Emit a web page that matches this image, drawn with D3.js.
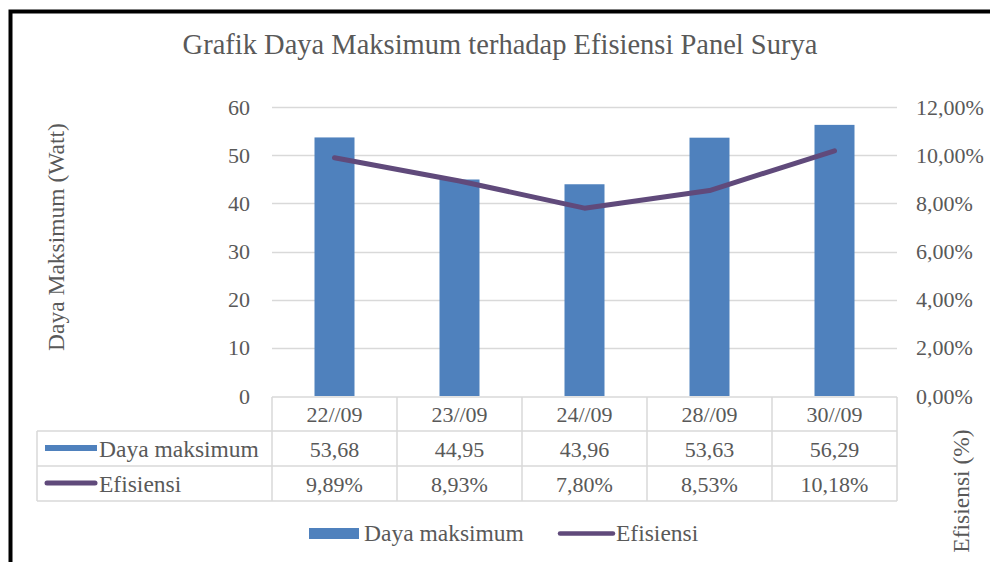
<!DOCTYPE html>
<html><head><meta charset="utf-8">
<script src="https://cdn.jsdelivr.net/npm/d3@7"></script>
<style>
html,body{margin:0;padding:0;background:#fff;}
svg{display:block;}
</style></head>
<body>
<svg id="chart" width="990" height="562"></svg>
<script>
const categories = ["22//09","23//09","24//09","28//09","30//09"];
const dayaMaksimum = [53.68, 44.95, 43.96, 53.63, 56.29];
const efisiensi = [0.0989, 0.0893, 0.0780, 0.0853, 0.1018];
const leftTicks = [0,10,20,30,40,50,60];
const rightTicks = [0,0.02,0.04,0.06,0.08,0.10,0.12];
const titleText = "Grafik Daya Maksimum terhadap Efisiensi Panel Surya";
const seriesNames = ["Daya maksimum","Efisiensi"];

// pick an installed serif face
function pickFont(){
  const cands = ["Liberation Serif","DejaVu Serif","Noto Serif","Tinos","Times New Roman","Times","FreeSerif"];
  const c = document.createElement("canvas").getContext("2d");
  const s = "Grafik Daya Maksimum 0123456789 %";
  for (const f of cands){
    c.font = `20px "${f}", monospace`; const a = c.measureText(s).width;
    c.font = `20px "${f}", sans-serif`; const b = c.measureText(s).width;
    if (Math.abs(a-b) < 0.01) return `"${f}", serif`;
  }
  return "serif";
}
const FONT = pickFont();
const TXT = "#595959";
const locale = d3.formatLocale({decimal:",", thousands:".", grouping:[3], currency:["",""], percent:"%"});
const fmtVal = locale.format(".2f");
const fmtPct = locale.format(".2%");

const BLUE = "#4F81BD", PURPLE = "#604A7B", GRID = "#d9d9d9";
const svg = d3.select("#chart").style("font-family", FONT);

// outer frame
svg.append("rect").attr("x",10.5).attr("y",11.5).attr("width",1100).attr("height",700)
  .attr("fill","none").attr("stroke","#000").attr("stroke-width",4);

// title
svg.append("text").attr("x",500).attr("y",54).attr("text-anchor","middle")
  .style("font-family",FONT).attr("fill",TXT).attr("font-size",28.5).text(titleText);

const x = d3.scaleBand().domain(categories).range([272,897]).padding(0);
const yL = d3.scaleLinear().domain([0,60]).range([396,107]);
const yR = d3.scaleLinear().domain([0,0.12]).range([396,107]);

// gridlines
svg.append("g").selectAll("line").data(leftTicks.filter(d=>d>0)).join("line")
  .attr("x1",272).attr("x2",897).attr("y1",d=>Math.round(yL(d))+0.5).attr("y2",d=>Math.round(yL(d))+0.5)
  .attr("stroke",GRID).attr("stroke-width",1.5);

// left axis
const gL = svg.append("g").attr("transform","translate(258,0)")
  .call(d3.axisLeft(yL).tickValues(leftTicks).tickSize(0).tickPadding(8));
gL.select(".domain").remove();
gL.attr("font-size",22);
gL.selectAll("text").attr("fill",TXT).style("font-family",FONT);

// right axis
const gR = svg.append("g").attr("transform","translate(908,0)")
  .call(d3.axisRight(yR).tickValues(rightTicks).tickSize(0).tickPadding(8).tickFormat(fmtPct));
gR.select(".domain").remove();
gR.attr("font-size",22);
gR.selectAll("text").attr("fill",TXT).style("font-family",FONT);

// axis titles
svg.append("text").attr("transform","translate(56,237) rotate(-90)")
  .attr("text-anchor","middle").attr("dominant-baseline","central")
  .attr("fill",TXT).attr("font-size",23.5).text("Daya Maksimum (Watt)");
svg.append("text").attr("transform","translate(961,491) rotate(-90)")
  .attr("text-anchor","middle").attr("dominant-baseline","central")
  .attr("fill",TXT).attr("font-size",23.5).text("Efisiensi (%)");

// bars
const bw = 40;
svg.append("g").selectAll("rect").data(categories).join("rect")
  .attr("x",(d)=>x(d)+x.bandwidth()/2-bw/2)
  .attr("y",(d,i)=>yL(dayaMaksimum[i]))
  .attr("width",bw)
  .attr("height",(d,i)=>yL(0)-yL(dayaMaksimum[i]))
  .attr("fill",BLUE);

// line
const line = d3.line().x((d,i)=>x(categories[i])+x.bandwidth()/2).y(d=>yR(d));
svg.append("path").datum(efisiensi).attr("d",line)
  .attr("fill","none").attr("stroke",PURPLE).attr("stroke-width",5)
  .attr("stroke-linejoin","round").attr("stroke-linecap","round");

// data table
const rowY = [397,431,466,501];
const tbl = svg.append("g").attr("stroke",GRID).attr("stroke-width",1.5);
tbl.append("line").attr("x1",272).attr("x2",897).attr("y1",rowY[0]).attr("y2",rowY[0]);
[rowY[1],rowY[2],rowY[3]].forEach(yy=>{
  tbl.append("line").attr("x1",37).attr("x2",897).attr("y1",yy).attr("y2",yy);
});
const colX = categories.map(c=>x(c)).concat([x(categories[categories.length-1])+x.bandwidth()]);
colX.forEach(cx=>{
  tbl.append("line").attr("x1",cx).attr("x2",cx).attr("y1",rowY[0]).attr("y2",rowY[3]);
});
tbl.append("line").attr("x1",37).attr("x2",37).attr("y1",rowY[1]).attr("y2",rowY[3]);

const cellFont = 22;
svg.append("g").selectAll("text").data(categories).join("text")
  .attr("x",d=>x(d)+x.bandwidth()/2).attr("y",422).attr("text-anchor","middle")
  .attr("fill",TXT).attr("font-size",cellFont).text(d=>d);
svg.append("g").selectAll("text").data(dayaMaksimum).join("text")
  .attr("x",(d,i)=>x(categories[i])+x.bandwidth()/2).attr("y",457).attr("text-anchor","middle")
  .attr("fill",TXT).attr("font-size",cellFont).text(d=>fmtVal(d));
svg.append("g").selectAll("text").data(efisiensi).join("text")
  .attr("x",(d,i)=>x(categories[i])+x.bandwidth()/2).attr("y",492).attr("text-anchor","middle")
  .attr("fill",TXT).attr("font-size",cellFont).text(d=>fmtPct(d));

// table legend keys
svg.append("rect").attr("x",45).attr("y",445).attr("width",52).attr("height",6).attr("fill",BLUE);
svg.append("line").attr("x1",47).attr("x2",95).attr("y1",483).attr("y2",483)
  .attr("stroke",PURPLE).attr("stroke-width",5).attr("stroke-linecap","round");
svg.append("text").attr("x",99).attr("y",457).attr("fill",TXT).attr("font-size",23.5).text(seriesNames[0]);
svg.append("text").attr("x",99).attr("y",492).attr("fill",TXT).attr("font-size",23.5).text(seriesNames[1]);

// bottom legend
svg.append("rect").attr("x",309).attr("y",528).attr("width",50).attr("height",11).attr("fill",BLUE);
svg.append("text").attr("x",364).attr("y",541).attr("fill",TXT).attr("font-size",23.5).text(seriesNames[0]);
svg.append("line").attr("x1",560).attr("x2",613).attr("y1",533.5).attr("y2",533.5)
  .attr("stroke",PURPLE).attr("stroke-width",4.5).attr("stroke-linecap","round");
svg.append("text").attr("x",616).attr("y",541).attr("fill",TXT).attr("font-size",23.5).text(seriesNames[1]);
</script>
</body></html>
